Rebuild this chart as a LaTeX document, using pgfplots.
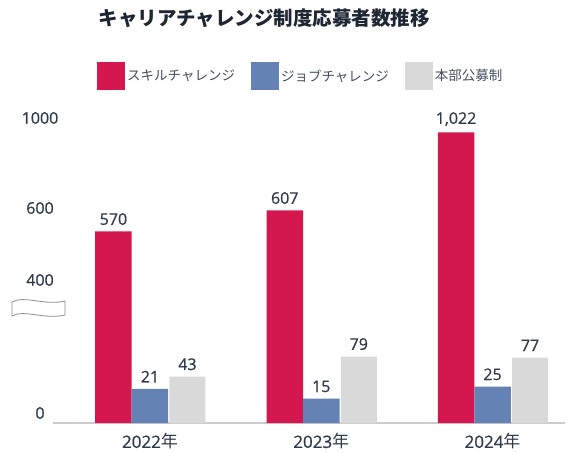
\documentclass[border=0pt]{standalone}
\usepackage{pgfplots}
\pgfplotsset{compat=1.18}
\usepackage{pgfplotstable}
\usepackage{fontspec}
\setmainfont{Noto Sans CJK JP}
\newfontfamily\numfont{Open Sans}[FakeBold=0.8]
\definecolor{skill}{HTML}{D4184F}
\definecolor{job}{HTML}{6482B4}
\definecolor{honbu}{HTML}{D9D9D9}
\definecolor{txt}{HTML}{2F3B4C}
\definecolor{ttl}{HTML}{1E2533}

\pgfplotstableread{
x skill job honbu
0 570 21 43
1 607 15 79
2 1022 25 77
}\data

\begin{document}
\begin{tikzpicture}[x=1pt,y=1pt]
\useasboundingbox (0,0) rectangle (569,452);
\begin{axis}[
  at={(53pt,29pt)}, anchor=south west,
  scale only axis, width=512pt, height=305pt,
  xmin=-0.566, xmax=2.423, ymin=0, ymax=1099,
  y coord trafo/.code={\pgfmathparse{1.62*#1-1.06*max(#1-21,0)-0.3054*max(#1-79,0)+0.313*max(#1-570,0)-0.3796*max(#1-607,0)}},
  ybar, bar width=36.5pt,
  axis x line*=bottom, axis y line*=left,
  x axis line style={draw=black!20, line width=1.2pt},
  y axis line style={draw=none},
  major tick length=0pt,
  xtick={0,1,2},
  xticklabels={{\numfont 2022}年,{\numfont 2023}年,{\numfont 2024}年},
  xticklabel style={font=\fontsize{17}{18}\selectfont, text=txt, yshift=-7pt},
  ytick={6.17,379.5,620,1099},
  yticklabels={0,400,600,1000},
  yticklabel style={anchor=center, xshift=-13pt, font=\numfont\fontsize{16}{17}\selectfont, text=txt},
  /pgf/number format/.cd, 1000 sep={,}, assume math mode=true, /pgfplots/.cd,
  nodes near coords,
  point meta=rawy,
  every node near coord/.append style={anchor=south, yshift=3pt, font=\numfont\fontsize{16}{17}\selectfont, text=txt},
  title={キャリアチャレンジ制度応募者数推移},
  title style={at={(axis description cs:0.413,1.308)}, anchor=center, font=\bfseries\fontsize{19.5}{21}\selectfont, text=ttl},
  legend columns=3,
  legend style={at={(axis description cs:0.0859,1.1377)}, anchor=west, draw=none, fill=none, inner sep=0pt,
    font=\fontsize{13.5}{14}\selectfont, text=txt!90,
    /tikz/every even column/.append style={column sep=14pt}},
  sq/.style={legend image code/.code={\fill (0pt,-14pt) rectangle (28pt,14pt);}},
]
\addplot[fill=skill, draw=none, bar shift=-36.5pt, sq] table[x=x, y=skill] {\data};
\addlegendentry{スキルチャレンジ}
\addplot[fill=job, draw=none, bar shift=0pt, sq] table[x=x, y=job] {\data};
\addlegendentry{ジョブチャレンジ}
\addplot[fill=honbu, draw=none, bar shift=37.5pt, bar width=36pt, sq] table[x=x, y=honbu] {\data};
\addlegendentry{本部公募制}
\end{axis}
% axis break marker
\draw[black!45, line width=0.8pt, fill=white]
  (12,150) .. controls (24,157) and (45,146) .. (65,151)
  -- (65,137) .. controls (45,132) and (24,143) .. (12,136) -- cycle;
\end{tikzpicture}
\end{document}
